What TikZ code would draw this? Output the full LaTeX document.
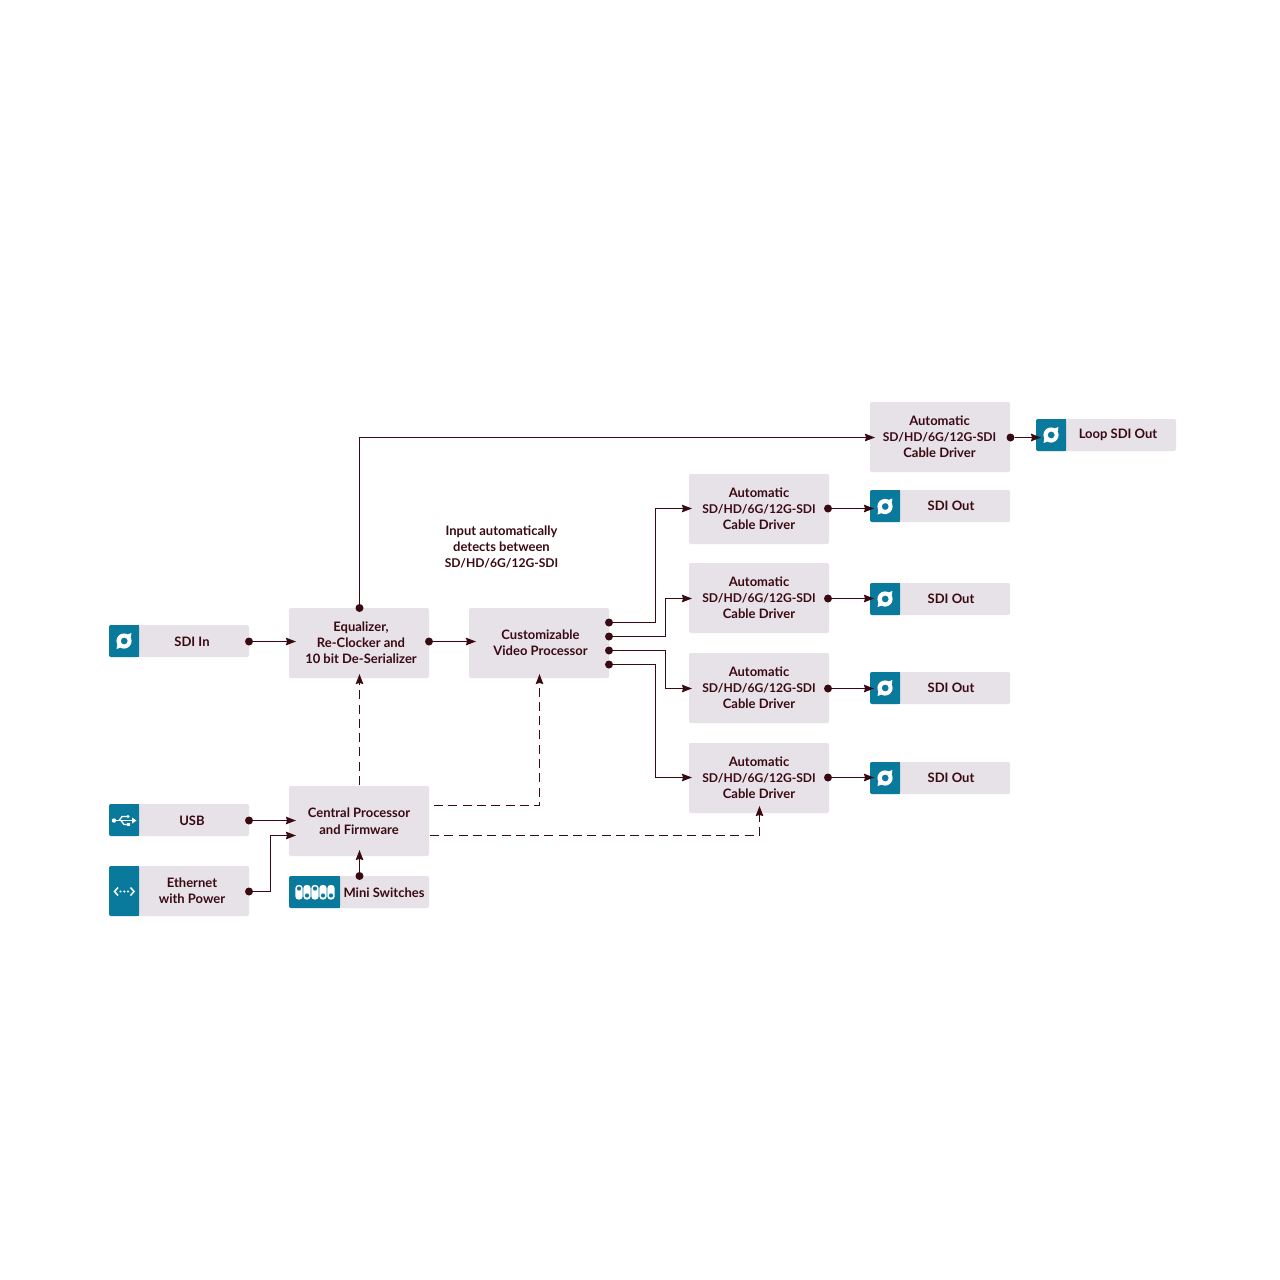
\documentclass[tikz,border=0pt]{standalone}
\usepackage{fontspec}
\setmainfont{Lato}[BoldFont={Lato Bold}]
\usetikzlibrary{arrows.meta}
\definecolor{ink}{HTML}{3A0A12}
\definecolor{panel}{HTML}{E6E2E7}
\definecolor{teal}{HTML}{0A7A9C}
\newcommand{\sdtxt}{\fontsize{12.1}{16}\selectfont}
\tikzset{
  x=1pt,y=-1pt,
  box/.style={fill=panel,rounded corners=2pt,inner sep=0pt,minimum width=140pt,minimum height=70pt},
  iobox/.style={fill=panel,rounded corners=2pt,inner sep=0pt,minimum width=140pt,minimum height=32pt},
  lbl/.style={text=ink,font=\fontsize{13}{16}\selectfont\bfseries,align=center,inner sep=0pt},
  dotn/.style={circle,fill=ink,inner sep=0pt,minimum size=8pt},
  wire/.style={draw=ink,line width=1.2pt,-{Stealth[length=10pt,width=7.5pt,inset=1pt]}},
  dashwire/.style={wire,dash pattern=on 9pt off 5.3pt},
}
\newcommand{\tealcap}[4]{% x1,y1,x2,y2
  \fill[teal,rounded corners=2pt] (#3,#2) -- (#1,#2) -- (#1,#4) -- (#3,#4) -- cycle;
  \fill[teal] (#3-3,#2) rectangle (#3,#4);}
\newcommand{\sdiicon}[2]{% centre
  \begin{scope}[shift={(#1,#2)}]
  \fill[white,even odd rule] (0,0) circle[radius=7.6] (0.2,0) circle[radius=3.5];
  \fill[white] (3.5,-6.6) -- (7.4,-8) -- (6.8,-3.5) -- cycle;
  \fill[white] (-3.5,6.6) -- (-7.4,8) -- (-6.8,3.5) -- cycle;
  \end{scope}}
\begin{document}
\begin{tikzpicture}
\useasboundingbox (0,0) rectangle (1280,1280);
\fill[white] (0,0) rectangle (1280,1280);
% main boxes
\node[box] (eq) at (359,643) {};
\node[lbl] (eqt) at (361,643) {Equalizer,\\Re-Clocker and\\10 bit De-Serializer};
\node[box] (cvp) at (539,643) {};
\node[lbl] (cvpt) at (540.5,643) {Customizable\\Video Processor};
\node[box] (cpu) at (359,821) {};
\node[lbl] (cput) at (359,821) {Central Processor\\[1pt]and Firmware};
\node[box] (drv0) at (940,437) {};
\node[lbl] (drv0t) at (939.5,437) {Automatic\\{\sdtxt SD/HD/6G/12G-SDI}\\Cable Driver};
\node[box] (drv1) at (759,509) {};
\node[lbl] (drv1t) at (759,509) {Automatic\\{\sdtxt SD/HD/6G/12G-SDI}\\Cable Driver};
\node[box] (drv2) at (759,598) {};
\node[lbl] (drv2t) at (759,598) {Automatic\\{\sdtxt SD/HD/6G/12G-SDI}\\Cable Driver};
\node[box] (drv3) at (759,688) {};
\node[lbl] (drv3t) at (759,688) {Automatic\\{\sdtxt SD/HD/6G/12G-SDI}\\Cable Driver};
\node[box] (drv4) at (759,778) {};
\node[lbl] (drv4t) at (759,778) {Automatic\\{\sdtxt SD/HD/6G/12G-SDI}\\Cable Driver};
% in/out boxes
\node[iobox] (sdiin) at (179,641) {};
\tealcap{109}{625}{139}{657}\sdiicon{124}{641}
\node[lbl] (sdiint) at (192,641.5) {SDI In};
\node[iobox] (usb) at (179,820) {};
\tealcap{109}{804}{139}{836}
\node[lbl] (usbt) at (192,820.5) {USB};
\node[iobox,minimum height=50pt] (eth) at (179,891) {};
\tealcap{109}{866}{139}{916}
\node[lbl] (etht) at (192,891) {Ethernet\\with Power};
\node[iobox] (mini) at (359,892) {};
\tealcap{289}{876}{340}{908}
\node[lbl] (minit) at (384,892.5) {Mini Switches};
\node[iobox] (loop) at (1106,435) {};
\tealcap{1036}{419}{1066}{451}\sdiicon{1051}{435}
\node[lbl] (loopt) at (1118,435) {Loop SDI Out};
\node[iobox] (out1) at (940,506) {};
\tealcap{870}{490}{900}{522}\sdiicon{885}{506.5}
\node[lbl] (out1t) at (951,506) {SDI Out};
\node[iobox] (out2) at (940,599) {};
\tealcap{870}{583}{900}{615}\sdiicon{885}{599}
\node[lbl] (out2t) at (951,599) {SDI Out};
\node[iobox] (out3) at (940,688) {};
\tealcap{870}{672}{900}{704}\sdiicon{885}{688}
\node[lbl] (out3t) at (951,688) {SDI Out};
\node[iobox] (out4) at (940,778) {};
\tealcap{870}{762}{900}{794}\sdiicon{885}{778}
\node[lbl] (out4t) at (951,778) {SDI Out};
% usb icon
\draw[white,line width=1.6pt] (114,820.5) -- (133,820.5);
\fill[white] (114,820.5) circle[radius=2.2];
\fill[white] (136.5,820.5) -- (132,817.5) -- (132,823.5) -- cycle;
\draw[white,line width=1.3pt] (119,820.5) -- (122,816.5) -- (127,816.5);
\draw[white,line width=1.3pt] (121,820.5) -- (124,824.5) -- (127,824.5);
\fill[white] (128,816.5) circle[radius=1.7];
\fill[white] (126.5,822.8) rectangle (130,826.2);
% ethernet icon
\draw[white,line width=1.5pt] (118,887.5) -- (114.5,891.5) -- (118,895.5);
\draw[white,line width=1.5pt] (130.5,887.5) -- (134,891.5) -- (130.5,895.5);
\foreach \ex in {120.5,124.3,128}{\fill[white] (\ex,891.5) circle[radius=1.2];}
% mini switch icon
\foreach \mx/\my in {299/888.5,307/895.5,315/888.5,323/895.5,331/895.5}{
  \fill[white,rounded corners=3pt] (\mx-3.6,885) rectangle (\mx+3.6,899.5);
  \fill[teal] (\mx,\my) circle[radius=2.1];}
% annotation
\node[lbl] (note) at (501.5,547) {Input automatically\\detects between\\{\sdtxt SD/HD/6G/12G-SDI}};
% dots
\node[dotn] (dSdi) at (249,641.5) {};
\node[dotn] (dEqR) at (429,641.5) {};
\node[dotn] (dEqT) at (359.5,608) {};
\node[dotn] (dV1) at (609,622.5) {};
\node[dotn] (dV2) at (609,636.5) {};
\node[dotn] (dV3) at (609,650.5) {};
\node[dotn] (dV4) at (609,664.5) {};
\node[dotn] (dD0) at (1010.5,437.5) {};
\node[dotn] (dD1) at (828,508.5) {};
\node[dotn] (dD2) at (828,598.5) {};
\node[dotn] (dD3) at (828,688.5) {};
\node[dotn] (dD4) at (828,777.5) {};
\node[dotn] (dUsb) at (249,820.5) {};
\node[dotn] (dEth) at (249,891.5) {};
\node[dotn] (dMini) at (359.5,876) {};
% arrow ends
\coordinate (eqIn) at (296,641.5);
\coordinate (cvpIn) at (476,641.5);
\coordinate (cpuIn1) at (296,820.5);
\coordinate (cpuIn2) at (296,835.5);
\coordinate (cpuIn3) at (359.5,850);
\coordinate (eqUp) at (359.5,674);
\coordinate (cvpUp) at (539.5,674);
\coordinate (drv4Up) at (759.5,806);
\coordinate (d0In) at (875,437.5);
\coordinate (d1In) at (692,508.5);
\coordinate (d2In) at (692,598.5);
\coordinate (d3In) at (692,688.5);
\coordinate (d4In) at (692,777.5);
\coordinate (loopIn) at (1041,437.5);
\coordinate (o1In) at (874,508.5);
\coordinate (o2In) at (874,598.5);
\coordinate (o3In) at (874,688.5);
\coordinate (o4In) at (874,777.5);
\coordinate (cpuA) at (359.5,785);
\coordinate (cpuB) at (434,805.5);
\coordinate (cpuC) at (430,835.5);
% connectors
\draw[wire] (dSdi) -- (eqIn);
\draw[wire] (dEqR) -- (cvpIn);
\draw[wire] (dUsb) -- (cpuIn1);
\draw[wire] (dEth.center) -- (270.5,891.5) -- (270.5,835.5) -- (cpuIn2);
\draw[wire] (dMini) -- (cpuIn3);
\draw[wire] (dEqT.center) -- (359.5,437.5) -- (d0In);
\draw[wire] (dD0) -- (loopIn);
\draw[wire] (dV1.center) -- (655.5,622.5) -- (655.5,508.5) -- (d1In);
\draw[wire] (dV2.center) -- (665.5,636.5) -- (665.5,598.5) -- (d2In);
\draw[wire] (dV3.center) -- (665.5,650.5) -- (665.5,688.5) -- (d3In);
\draw[wire] (dV4.center) -- (655.5,664.5) -- (655.5,777.5) -- (d4In);
\draw[wire] (dD1) -- (o1In);
\draw[wire] (dD2) -- (o2In);
\draw[wire] (dD3) -- (o3In);
\draw[wire] (dD4) -- (o4In);
\draw[dashwire] (cpuA) -- (eqUp);
\draw[dashwire] (cpuB) -- (539.5,805.5) -- (cvpUp);
\draw[dashwire] (cpuC) -- (759.5,835.5) -- (drv4Up);
\end{tikzpicture}
\end{document}
